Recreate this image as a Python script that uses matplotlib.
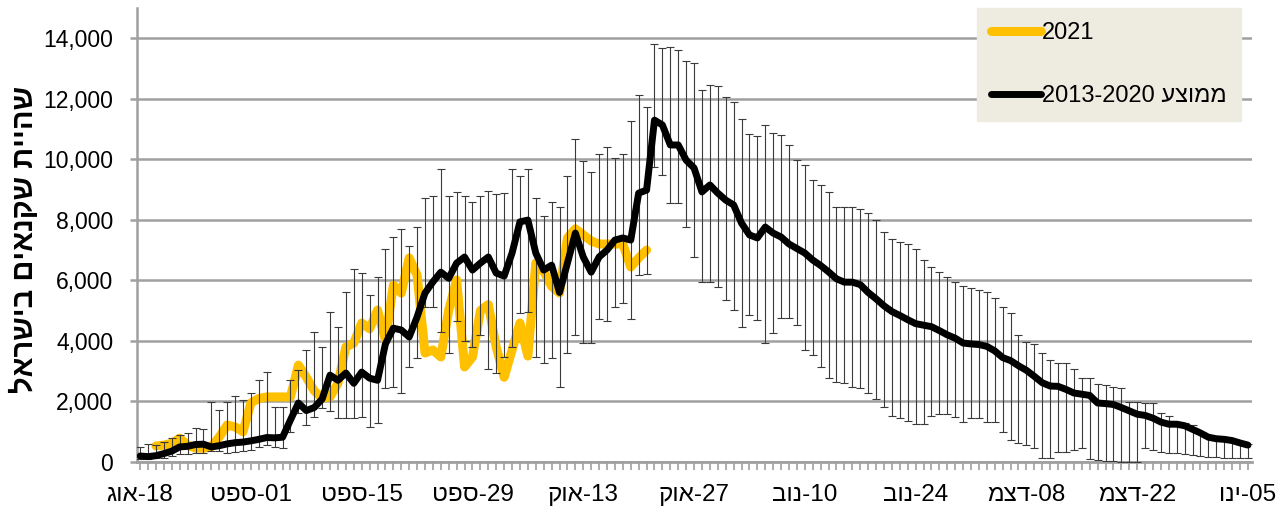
import numpy as np
import matplotlib
matplotlib.use('Agg')
import matplotlib.pyplot as plt
from matplotlib import ticker

plt.rcParams['font.family'] = ['Liberation Sans', 'DejaVu Sans']

# daily values, 18 Aug .. 05 Jan (141 days)
avg = [200, 180, 210, 280, 360, 500, 520, 580, 590, 500,
       540, 600, 640, 660, 700, 750, 810, 800, 820, 1390,
       1950, 1700, 1800, 2080, 2870, 2700, 2940, 2600, 2970, 2770,
       2700, 3900, 4420, 4360, 4130, 4790, 5580, 5950, 6270, 6070,
       6570, 6770, 6340, 6570, 6770, 6240, 6140, 6900, 7930, 7990,
       6900, 6340, 6500, 5600, 6570, 7560, 6770, 6270, 6770, 7000,
       7330, 7400, 7330, 8880, 8980, 11290, 11130, 10470, 10470, 9970,
       9710, 8920, 9150, 8880, 8650, 8490, 7890, 7500, 7400, 7760,
       7560, 7430, 7200, 7050, 6900, 6670, 6490, 6280, 6050, 5940,
       5940, 5860, 5600, 5390, 5160, 4970, 4840, 4700, 4570, 4520,
       4470, 4340, 4200, 4090, 3930, 3900, 3880, 3820, 3670, 3450,
       3350, 3180, 3030, 2830, 2620, 2510, 2500, 2400, 2280, 2240,
       2200, 1950, 1930, 1900, 1800, 1690, 1580, 1540, 1450, 1320,
       1250, 1250, 1200, 1080, 960, 820, 770, 750, 710, 630,
       560]

# top / bottom of the error bars
hi = [500, 590, 550, 650, 790, 890, 950, 1120, 1090, 1980,
      1720, 1980, 2180, 2050, 2280, 2710, 2980, 1820, 1820, 2710,
      3040, 3700, 4300, 3800, 4950, 4460, 5610, 6370, 6240, 5510,
      6110, 7030, 7430, 7690, 7140, 7760, 8720, 8780, 9670, 8780,
      8910, 8780, 8580, 8780, 8950, 8850, 8880, 9670, 9440, 9670,
      8720, 8120, 8580, 8420, 9440, 10670, 9940, 9570, 10170, 10400,
      10040, 10170, 11260, 12120, 11720, 13800, 13670, 13700, 13600, 13240,
      13180, 12280, 12450, 12420, 12050, 11890, 11330, 10830, 10760, 11130,
      10860, 10800, 10470, 9970, 9810, 9310, 9150, 8920, 8420, 8420,
      8420, 8350, 8220, 7990, 7590, 7360, 7260, 7200, 7030, 6670,
      6440, 6270, 6110, 5940, 5810, 5740, 5680, 5610, 5420, 5120,
      4920, 4190, 3960, 3900, 3600, 3370, 3270, 3270, 3070, 2770,
      2770, 2580, 2540, 2480, 2440, 1980, 1980, 1950, 1950, 1620,
      1520, 1290, 1290, 1220, 1000, 900, 800, 780, 740, 660,
      580]

lo = [100, 100, 120, 150, 200, 250, 250, 300, 300, 350,
      350, 300, 330, 360, 400, 500, 560, 500, 460, 1000,
      1620, 1220, 1490, 1780, 1700, 1450, 1450, 1450, 1490, 1160,
      1290, 2440, 2480, 2280, 3140, 3430, 5120, 5120, 4290, 3600,
      4660, 4000, 3800, 4200, 3070, 2940, 3470, 3800, 4920, 4950,
      3470, 3270, 3430, 2480, 3600, 4190, 3930, 3930, 4720, 4660,
      5120, 5250, 4720, 6170, 6200, 9740, 9480, 8550, 8550, 7760,
      6770, 5940, 5940, 5780, 5350, 5020, 4460, 4850, 4690, 3930,
      4260, 4750, 4750, 4520, 3700, 3530, 3140, 2770, 2640, 2610,
      2480, 2440, 2280, 2080, 1820, 1520, 1450, 1360, 1250, 1250,
      1520, 1590, 1590, 1490, 1320, 1450, 1450, 1320, 1320, 990,
      730, 620, 560, 460, 130, 130, 330, 330, 400, 460,
      100, 70, 50, 30, 0, 0, 0, 460, 400, 330,
      300, 300, 280, 230, 200, 180, 160, 150, 140, 130,
      130]

# 2021 season, starts on day 2 (20 Aug)
start_2021 = 2
y2021 = [530, 560, 620, 790, 560, 460, 460, 500, 830,
         1220, 1160, 1000, 1950, 2100, 2150, 2150, 2150, 2150, 3200,
         2800, 2350, 2110, 2150, 2600, 3800, 3930, 4590, 4400, 5020,
         4030, 5840, 5580, 6740, 6170, 3600, 3700, 3470, 5020, 6010,
         3140, 3470, 5000, 5200, 3800, 2800, 3700, 4590, 3500, 6570,
         6300, 5800, 5580, 7400, 7700, 7500, 7300, 7200, 7200, 7200,
         7200, 6440, 6740, 7000]

# hebrew written in visual order (matplotlib has no bidi)
tick_labels = ['גוא-18', 'טפס-01', 'טפס-15', 'טפס-29', 'קוא-13', 'קוא-27',
               'בונ-10', 'בונ-24', 'מצד-08', 'מצד-22', 'וני-05']
ylabel = 'לארשיב םיאנקש תייהש'
label_2021 = '2021'
label_avg = '2013-2020 עצוממ'

#%%
avg = np.array(avg)
days = np.arange(len(avg))
err = np.array([avg - np.array(lo), np.array(hi) - avg])
days_2021 = np.arange(start_2021, start_2021 + len(y2021))

fig = plt.figure(figsize=(12.86, 5.18), dpi=100)
ax = fig.add_axes([0.1065, 0.108, 0.867, 0.877])

ax.plot(days_2021, y2021, color='#FFC000', lw=6.5, solid_capstyle='round',
        solid_joinstyle='round', zorder=3, label=label_2021)
ax.errorbar(days, avg, yerr=err, fmt='none', ecolor='#3a3a3a', elinewidth=0.8,
            capsize=3, capthick=0.8, zorder=4)
ax.plot(days, avg, color='black', lw=5, solid_capstyle='round',
        solid_joinstyle='round', zorder=5, label=label_avg)

ax.set_xlim(-0.4, 140.5)
ax.set_ylim(0, 15000)
ax.set_yticks(np.arange(0, 14001, 2000))
ax.yaxis.set_major_formatter(ticker.StrMethodFormatter('{x:,.0f}'))
ax.set_xticks(np.arange(0, 141, 14))
ax.set_xticklabels(tick_labels)
ax.set_xticks(days, minor=True)

ax.grid(axis='y', color='#a0a0a0', lw=1.8, zorder=0)
ax.set_axisbelow(True)
for s in ['top', 'right']:
    ax.spines[s].set_visible(False)
ax.spines['left'].set_color('#a0a0a0')
ax.spines['left'].set_linewidth(1.8)
ax.spines['bottom'].set_color('#a0a0a0')
ax.spines['bottom'].set_linewidth(2)

ax.tick_params(axis='y', length=5, width=1.8, color='#a0a0a0', labelsize=16.5, pad=12)
ax.tick_params(axis='x', which='both', length=6, width=1.2, color='#a0a0a0',
               labelsize=17.5, pad=10)

ax.set_ylabel(ylabel, fontsize=21, fontweight='bold')
ax.yaxis.set_label_coords(-0.088, 0.49)

leg = ax.legend(loc='upper right', bbox_to_anchor=(0.99, 1.0), fontsize=17,
                frameon=True, fancybox=False, facecolor='#EEECE1',
                edgecolor='#EEECE1', framealpha=1, labelspacing=1.75,
                handlelength=2.1, handletextpad=0.05, borderpad=0.6,
                borderaxespad=0.0)
leg.set_zorder(10)

fig.savefig('out.png', dpi=100)
